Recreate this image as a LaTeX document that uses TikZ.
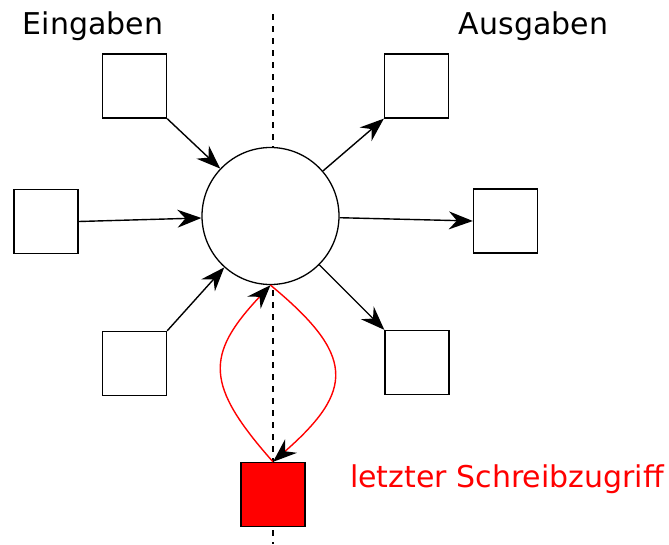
\documentclass[tikz,border=0pt]{standalone}
\usepackage{fontspec}
\setmainfont{DejaVu Sans}
\usetikzlibrary{arrows.meta}
\tikzset{
  port/.style={draw, line width=1.3pt, fill=white, minimum size=64pt, inner sep=0pt},
  hotport/.style={port, fill=red},
  hub/.style={draw, circle, line width=1.3pt, fill=white, minimum size=137pt, inner sep=0pt},
  flow/.style={-{Stealth[length=24pt, width=18pt, inset=8pt]}, line width=1.4pt},
  writeflow/.style={-{Stealth[length=24pt, width=18pt, inset=8pt, color=black]}, draw=red, line width=1.4pt},
  axis/.style={dash pattern=on 6pt off 6pt, line width=1.5pt},
  label/.style={font=\fontsize{30}{36}\selectfont, anchor=base}
}

\begin{document}
\begin{tikzpicture}[x=1pt,y=-1pt]
  \useasboundingbox (0,0) rectangle (669,544);

  % divider
  \coordinate (top) at (273,14);
  \coordinate (bot) at (273,544);
  \draw[axis] (top) -- (bot);

  \node[label] (in) at (93,34) {Eingaben};
  \node[label] (out) at (533.5,34) {Ausgaben};

  \node[hub] (c) at (270.5,216) {};

  % inputs
  \node[port] (i1) at (134.5,86) {};
  \node[port] (i2) at (46,221.5) {};
  \node[port] (i3) at (134.5,363.5) {};

  % outputs
  \node[port] (o1) at (416.5,86) {};
  \node[port] (o2) at (505.5,221) {};
  \node[port] (o3) at (417,362.5) {};

  \node[hotport] (w) at (273,494.5) {};
  \node[label, text=red] (wl) at (507,487) {letzter Schreibzugriff};

  \draw[flow] (i1.south east) -- (c);
  \draw[flow] (i2.east) -- (c);
  \draw[flow] (i3.north east) -- (c);

  \draw[flow] (c) -- (o1.south west);
  \draw[flow] (c) -- (o2.west);
  \draw[flow] (c) -- (o3.north west);

  % read back and write
  \draw[writeflow] (w.north) .. controls (205,385) and (205,355) .. (c.south);
  \draw[writeflow] (c.south) .. controls (355,355) and (355,390) .. (w.north);
\end{tikzpicture}
\end{document}
